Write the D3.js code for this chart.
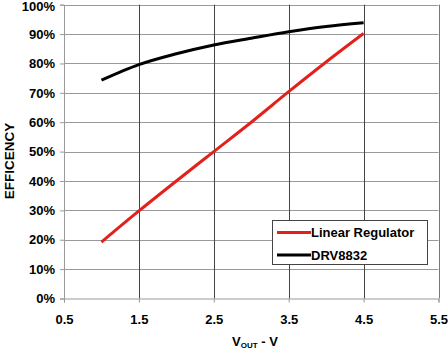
<!DOCTYPE html>
<html><head><meta charset="utf-8">
<script src="https://cdn.jsdelivr.net/npm/d3@7"></script>
<style>body{margin:0;background:#fff}svg{display:block}text{font-family:"Liberation Sans",Arial,sans-serif;font-weight:bold}</style>
</head><body>
<script>
const vout = [1.0, 1.5, 2.0, 2.5, 3.0, 3.5, 4.0, 4.5];
const linearReg = [19.2, 29.8, 40.0, 50.0, 60.0, 70.4, 80.5, 90.2];
const drv8832 = [74.3, 79.6, 83.3, 86.3, 88.6, 90.8, 92.6, 93.9];
const xTicks = [0.5, 1.5, 2.5, 3.5, 4.5, 5.5];
const yTicks = [0, 10, 20, 30, 40, 50, 60, 70, 80, 90, 100];
const seriesNames = ["Linear Regulator", "DRV8832"];
const seriesColors = ["#e3211c", "#000000"];

const W = 448, H = 352;
const L = 64, R = 438.5, T = 4.7, B = 298.5;
const svg = d3.select("body").append("svg").attr("width", W).attr("height", H);
const x = d3.scaleLinear().domain([0.5, 5.5]).range([L, R]);
const y = d3.scaleLinear().domain([0, 100]).range([B, T]);

// horizontal gridlines
svg.append("g").selectAll("line").data(yTicks.filter(d => d > 0)).join("line")
  .attr("x1", L).attr("x2", R).attr("y1", d => Math.round(y(d)) + 0.5).attr("y2", d => Math.round(y(d)) + 0.5)
  .attr("stroke", "#999").attr("stroke-width", 1.2);
// vertical gridlines
svg.append("g").selectAll("line").data(xTicks.filter(d => d > 0.5 && d < 5.5)).join("line")
  .attr("x1", d => Math.round(x(d)) + 0.5).attr("x2", d => Math.round(x(d)) + 0.5).attr("y1", T).attr("y2", B)
  .attr("stroke", "#444").attr("stroke-width", 1);
// right border
svg.append("line").attr("x1", Math.round(R) + 0.5).attr("x2", Math.round(R) + 0.5).attr("y1", T).attr("y2", B)
  .attr("stroke", "#777").attr("stroke-width", 1);

// axes
const yAxis = d3.axisLeft(y).tickValues(yTicks).tickFormat(d => d + "%").tickSize(4).tickPadding(5);
const gy = svg.append("g").attr("transform", `translate(${L},0)`).call(yAxis);
gy.selectAll("text").style("font-size", "13px").attr("fill", "#000");
gy.selectAll(".tick").filter(d => d === 100).select("text").attr("dy", "0.42em");
gy.selectAll("line,path").attr("stroke", "#999");

const xAxis = d3.axisBottom(x).tickValues(xTicks).tickFormat(d3.format(".1f")).tickSize(4).tickPadding(12);
const gx = svg.append("g").attr("transform", `translate(0,${B})`).call(xAxis);
gx.selectAll("text").style("font-size", "13px").attr("fill", "#000");
gx.selectAll("line,path").attr("stroke", "#999");

// lines
const line = d3.line().x((d, i) => x(vout[i])).y(d => y(d)).curve(d3.curveMonotoneX);
[linearReg, drv8832].forEach((s, i) => {
  svg.append("path").datum(s).attr("d", line).attr("fill", "none")
    .attr("stroke", seriesColors[i]).attr("stroke-width", 3).attr("stroke-linecap", "butt");
});

// axis titles
svg.append("text").attr("transform", "translate(14,161) rotate(-90)").attr("text-anchor", "middle")
  .style("font-size", "13.5px").text("EFFICENCY");
const xt = svg.append("text").attr("x", 255).attr("y", 346).attr("text-anchor", "middle").style("font-size", "13px");
xt.append("tspan").text("V");
xt.append("tspan").attr("dy", 2).style("font-size", "8px").text("OUT");
xt.append("tspan").attr("dy", -2).text(" - V");

// legend
const lg = svg.append("g");
lg.append("rect").attr("x", 272.5).attr("y", 220.5).attr("width", 155).attr("height", 44)
  .attr("fill", "#fff").attr("stroke", "#444").attr("stroke-width", 1);
seriesNames.forEach((n, i) => {
  const yy = 232.5 + i * 22.5;
  lg.append("line").attr("x1", 277).attr("x2", 311).attr("y1", yy).attr("y2", yy)
    .attr("stroke", seriesColors[i]).attr("stroke-width", 3);
  lg.append("text").attr("x", 311).attr("y", yy + 4.5).style("font-size", "13px").text(n);
});
</script>
</body></html>
